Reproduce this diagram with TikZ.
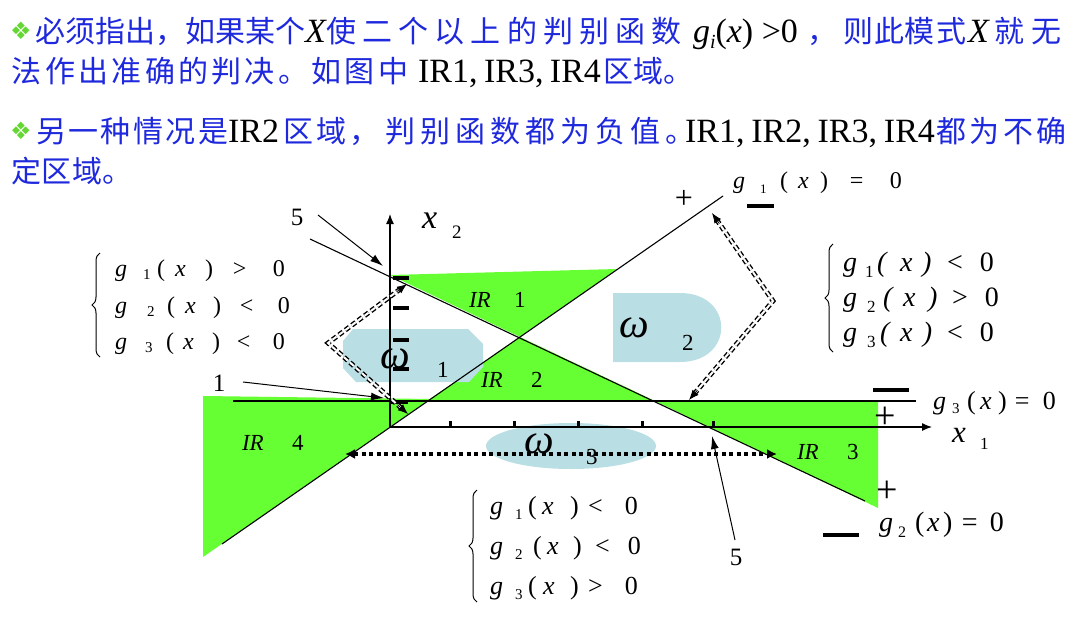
\documentclass[tikz,border=0pt]{standalone}
\usepackage{fontspec}
\setmainfont{Liberation Serif}
\newfontfamily\cjk{Noto Sans CJK SC}
\newfontfamily\dejavu{DejaVu Sans}
\usetikzlibrary{arrows.meta,decorations.pathreplacing,calc}
\definecolor{txtblue}{RGB}{30,40,220}
\definecolor{bulgreen}{RGB}{100,215,50}
\definecolor{irgreen}{RGB}{102,255,51}
\definecolor{omblue}{RGB}{185,222,227}
% spread characters over a given width
\newcommand\spr[2]{\makebox[#1][s]{\sprA#2\relax}}
\def\sprA#1{#1\sprB}
\def\sprB#1{\ifx\relax#1\else\hfil#1\expandafter\sprB\fi}
% g_k(x) rel 0 with explicit offsets
\newcommand\gL{(}
\newcommand\gR{)}
\newcommand\ssz{13}
\newcommand\sdrop{3}
\newcommand\gexp[8]{\rlap{\textit{g}}\rlap{\hspace*{#3pt}\raisebox{-\sdrop pt}{\fontsize{\ssz}{\ssz}\selectfont #1}}\rlap{\hspace*{#4pt}\gL}\rlap{\hspace*{#5pt}\textit{x}}\rlap{\hspace*{#6pt}\gR}\rlap{\hspace*{#7pt}#2}\hspace*{#8pt}0}
\begin{document}
\begin{tikzpicture}[x=1pt,y=-1pt,
 txt/.style={inner sep=0pt, outer sep=0pt, anchor=base west},
 cjkt/.style={txt, text=txtblue, font=\cjk\fontsize{30}{30}\selectfont},
 latt/.style={txt, font=\fontsize{34}{34}\selectfont},
 bul/.style={inner sep=0pt, text=bulgreen, font=\dejavu\fontsize{24}{24}\selectfont},
 gexpL/.style={txt, font=\fontsize{24}{24}\selectfont\def\ssz{15}\def\sdrop{3}},
 gexpR/.style={txt, font=\fontsize{28}{28}\selectfont\def\ssz{17}\def\sdrop{6}\def\gL{\textit{(}}\def\gR{\textit{)}}},
 gexpB/.style={txt, font=\fontsize{26}{26}\selectfont\def\ssz{15}\def\sdrop{5}},
 gexpT/.style={txt, font=\fontsize{24}{24}\selectfont\def\ssz{13}\def\sdrop{5}},
 gexpG/.style={txt, font=\fontsize{26}{26}\selectfont\def\ssz{15}\def\sdrop{4}},
 gexpH/.style={txt, font=\fontsize{28}{28}\selectfont\def\ssz{16}\def\sdrop{6}},
 irlab/.style={txt, font=\fontsize{23}{23}\selectfont},
 numlab/.style={inner sep=0pt, font=\fontsize{25}{25}\selectfont},
 omlab/.style={txt, font=\itshape\fontsize{42}{42}\selectfont},
 omsub/.style={txt, font=\fontsize{23}{23}\selectfont},
 pm/.style={inner sep=0pt, font=\fontsize{32}{32}\selectfont},
 pmbig/.style={inner sep=0pt, font=\fontsize{38}{38}\selectfont},
 lnthin/.style={line width=1.1pt},
 lnthick/.style={line width=2.8pt},
 axisln/.style={line width=1.2pt, -{Latex[length=10pt,width=8pt]}},
 dbl/.style={double, line width=1.4pt, double distance=2pt, dash pattern=on 5pt off 3pt},
 dbltip/.style={line width=0.8pt, -{Latex[length=10pt,width=8pt]}},
 dotln/.style={line width=3.8pt, dash pattern=on 4pt off 3.5pt, {Latex[length=10pt,width=10pt]}-{Latex[length=10pt,width=10pt]}},
 ann/.style={line width=1pt, -{Latex[length=13pt,width=8pt]}},
 brc/.style={decorate, decoration={brace, amplitude=8pt}, line width=1pt},
 minusbar/.style={line width=4.5pt},
 axbar/.style={line width=3.5pt},
 tickln/.style={line width=3pt},
]
\useasboundingbox (0,0) rectangle (1091,616);

% ---------- top text ----------
\node[bul] (b1) at (21,31) {❖};
\node[cjkt] (t1a) at (35,42) {\spr{270pt}{必须指出，如果某个}};
\node[latt] (t1b) at (305,42) {\textit{X}};
\node[cjkt] (t1c) at (326,42) {\spr{356pt}{使二个以上的判别函数}};
\node[latt] (t1e) at (693,42) {\textit{g}\raisebox{-6pt}{\fontsize{20}{20}\selectfont\textit{i}}(\textit{x}) >0};
\node[cjkt] (t1f) at (807,42) {，};
\node[cjkt] (t1g) at (843,42) {\spr{123pt}{则此模式}};
\node[latt] (t1h) at (968,42) {\textit{X}};
\node[cjkt] (t1i) at (994,42) {\spr{68pt}{就无}};

\node[cjkt] (t2a) at (12,82) {\spr{396pt}{法作出准确的判决。如图中}};
\node[latt] (t2b) at (418,82) {\makebox[183pt][s]{IR1, IR3, IR4}};
\node[cjkt] (t2c) at (603,82) {区域。};

\node[bul] (b2) at (21,131) {❖};
\node[cjkt] (t3a) at (36,142) {\spr{192pt}{另一种情况是}};
\node[latt] (t3b) at (228,142) {IR2};
\node[cjkt] (t3c) at (283,142) {\spr{96pt}{区域，}};
\node[cjkt] (t3d) at (385,142) {\spr{311pt}{判别函数都为负值。}};
\node[latt] (t3f) at (685,142) {\makebox[250pt][s]{IR1, IR2, IR3, IR4}};
\node[cjkt] (t3g) at (936,142) {\spr{131pt}{都为不确}};
\node[cjkt] (t4a) at (12,182) {定区域。};

% ---------- green regions ----------
\fill[irgreen] (390,275) -- (617,269) -- (520,337) -- cycle;
\fill[irgreen] (427,401) -- (520,337) -- (655,401) -- cycle;
\fill[irgreen] (655,401) -- (878,401) -- (878,508) -- cycle;
\fill[irgreen] (203,396) -- (430,399) -- (203,557) -- cycle;

% ---------- class regions ----------
\fill[omblue] (353,329) -- (468,329) -- (483,344) -- (483,367) -- (469,382) -- (356,382) -- (343,368) -- (343,341) -- cycle;
\fill[omblue] (613,293) -- (680,293) .. controls (735,293) and (735,362) .. (680,362) -- (613,362) -- cycle;
\fill[omblue] (571,446) ellipse [x radius=85, y radius=23];

% ---------- coordinates ----------
\coordinate (O) at (390,427);
\coordinate (x2top) at (390,214);
\coordinate (x1end) at (932,427);
\coordinate (g1a) at (222,544);
\coordinate (g1b) at (723,196);
\coordinate (g2a) at (310,239);
\coordinate (g2b) at (865,501);
\coordinate (g3a) at (233,401);
\coordinate (g3b) at (916,401);

% ---------- lines ----------
\draw[lnthin] (g1a) -- (g1b);
\draw[lnthin] (g2a) -- (g2b);
\draw[lnthick] (g3a) -- (g3b);
\draw[axisln] (O) -- (x2top);
\draw[axisln] (O) -- (x1end);
\foreach \t in {450,514,578,642,713} \draw[tickln] (\t,421) -- (\t,428);

% sign marks
\foreach \yy in {278,308,340,369} \draw[axbar] (393,\yy) -- (409,\yy);
\draw[line width=2pt] (391,403) -- (408,403);
\draw[minusbar] (747,206) -- (774,206);
\draw[minusbar] (873,390) -- (909,390);
\draw[minusbar] (823,535) -- (859,535);
\node[pm] (p1) at (684,199) {+};
\node[pmbig] (p2) at (885,418) {+};
\node[pmbig] (p3) at (887,492) {+};

% ---------- double dashed arrows ----------
\coordinate (dL) at (328,343);
\coordinate (dLa) at (407,284);
\coordinate (dLb) at (408,414);
\coordinate (dR) at (773,301);
\coordinate (dRa) at (712,213);
\coordinate (dRb) at (689,400);
\draw[dbl, shorten <=8pt, shorten >=8pt] (dLa) -- (dL) -- (dLb);
\draw[dbl, shorten <=8pt, shorten >=8pt] (dRa) -- (dR) -- (dRb);
\draw[dbltip] ($(dL)!0.87!(dLa)$) -- (dLa);
\draw[dbltip] ($(dL)!0.87!(dLb)$) -- (dLb);
\draw[dbltip] ($(dR)!0.88!(dRa)$) -- (dRa);
\draw[dbltip] ($(dR)!0.9!(dRb)$) -- (dRb);

% ---------- dotted arrow ----------
\coordinate (dotL) at (345,454);
\coordinate (dotR) at (777,454);
\draw[dotln] (dotL) -- (dotR);

% ---------- annotation arrows ----------
\node[numlab] (n5a) at (297,217) {5};
\node[numlab] (n1) at (219,383) {1};
\node[numlab] (n5b) at (736,557) {5};
\coordinate (a5s) at (318,215);
\coordinate (a5t) at (383,266);
\coordinate (a1s) at (243,382);
\coordinate (a1t) at (384,398);
\coordinate (a5bs) at (735,540);
\coordinate (a5bt) at (712,436);
\draw[ann] (a5s) -- (a5t);
\draw[ann] (a1s) -- (a1t);
\draw[ann] (a5bs) -- (a5bt);

% ---------- axis labels ----------
\node[txt, font=\itshape\fontsize{34}{34}\selectfont] (x2l) at (422,228) {x};
\node[txt, font=\fontsize{19}{19}\selectfont] (x2s) at (452,238) {2};
\node[txt, font=\itshape\fontsize{31}{31}\selectfont] (x1l) at (952,442) {x};
\node[txt, font=\fontsize{17}{17}\selectfont] (x1s) at (980,449) {1};

% ---------- region labels ----------
\node[omlab] (w1) at (380,368) {ω};
\node[omsub] (w1s) at (437,377) {1};
\node[omlab] (w2) at (619,337) {ω};
\node[omsub] (w2s) at (682,350) {2};
\node[omlab] (w3) at (524,453) {ω};
\node[omsub] (w3s) at (586,464) {3};

\node[irlab] (ir1) at (469,307) {\textit{IR}};
\node[irlab] (ir1n) at (514,307) {1};
\node[irlab] (ir2) at (481,387) {\textit{IR}};
\node[irlab] (ir2n) at (531,387) {2};
\node[irlab] (ir4) at (242,450) {\textit{IR}};
\node[irlab] (ir4n) at (292,450) {4};
\node[irlab] (ir3) at (797,459) {\textit{IR}};
\node[irlab] (ir3n) at (847,459) {3};

% ---------- line equations ----------
\node[gexpT] (eq1) at (733,188) {\gexp{1}{=}{27}{47}{65}{87}{117}{157}};
\node[gexpG] (eq3) at (933,409) {\gexp{3}{=}{19}{34}{47}{65}{82}{110}};
\node[gexpH] (eq2) at (879,531) {\gexp{2}{=}{19}{36}{48}{64}{83}{111}};

% ---------- condition blocks ----------
\draw[brc] (100,357) -- (100,253);
\node[gexpL] (l1) at (115,276) {\gexp{1}{>}{28}{42}{60}{90}{118}{158}};
\node[gexpL] (l2) at (115,313) {\gexp{2}{<}{32}{52}{70}{98}{125}{163}};
\node[gexpL] (l3) at (115,349) {\gexp{3}{<}{30}{51}{68}{97}{122}{158}};

\draw[brc] (833,352) -- (833,244);
\node[gexpR] (r1) at (843,271) {\gexp{1}{<}{22}{34}{57}{79}{104}{137}};
\node[gexpR] (r2) at (843,306) {\gexp{2}{>}{24}{40}{60}{85}{109}{142}};
\node[gexpR] (r3) at (843,341) {\gexp{3}{<}{24}{37}{57}{80}{104}{137}};

\draw[brc] (477,602) -- (477,490);
\node[gexpB] (d1) at (490,514) {\gexp{1}{<}{25}{38}{52}{80}{98}{135}};
\node[gexpB] (d2) at (490,554) {\gexp{2}{<}{25}{43}{57}{83}{105}{138}};
\node[gexpB] (d3) at (490,594) {\gexp{3}{>}{25}{38}{53}{80}{98}{135}};
\end{tikzpicture}
\end{document}
